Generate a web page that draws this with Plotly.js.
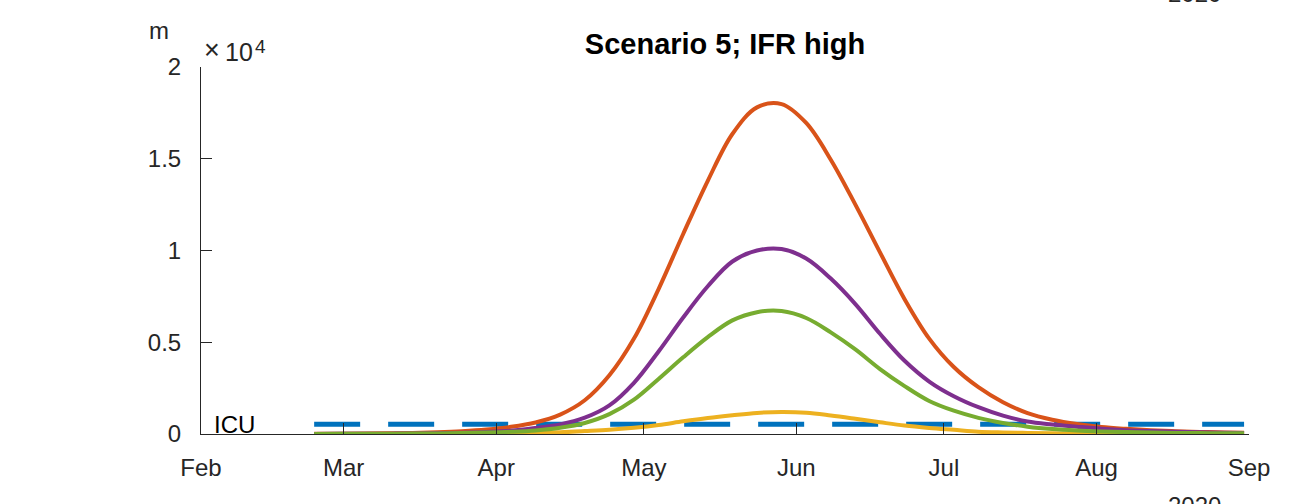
<!DOCTYPE html>
<html>
<head>
<meta charset="utf-8">
<script src="https://cdn.plot.ly/plotly-3.0.1.min.js"></script>
<style>html,body{margin:0;padding:0;background:#fff;}#chart{width:1303px;height:504px;}</style>
</head>
<body>
<div id="chart"></div>
<script>
// Dates (2020)
const dates = ['2020-02-24','2020-02-29','2020-03-05','2020-03-10','2020-03-15','2020-03-20','2020-03-25','2020-03-30',
  '2020-04-04','2020-04-09','2020-04-14','2020-04-19','2020-04-24','2020-04-29','2020-05-04','2020-05-09',
  '2020-05-14','2020-05-19','2020-05-24','2020-05-29','2020-06-03','2020-06-08','2020-06-13','2020-06-18',
  '2020-06-23','2020-06-28','2020-07-03','2020-07-08','2020-07-13','2020-07-18','2020-07-23','2020-07-28',
  '2020-08-02','2020-08-07','2020-08-12','2020-08-17','2020-08-22','2020-08-27','2020-08-31'];

const orangeVals = [10,15,25,40,60,95,150,240,
  390,630,1060,1840,3200,5200,7900,10900,
  13800,16350,17800,17980,16950,14950,12500,9900,
  7350,5200,3650,2550,1730,1140,780,540,
  380,280,205,155,115,85,65];

const purpleVals = [5,8,12,20,30,45,70,110,
  180,330,520,890,1560,2790,4500,6350,
  8050,9400,10000,10080,9560,8470,7080,5460,
  3990,2860,2060,1460,1000,680,520,400,
  290,210,160,120,90,70,55];

const greenVals = [5,7,10,15,22,32,48,75,
  120,195,340,600,1080,1870,3000,4180,
  5280,6190,6640,6700,6320,5540,4610,3540,
  2610,1800,1270,880,600,400,270,190,
  140,105,80,60,50,40,35];

const yellowVals = [2,3,5,7,10,14,20,30,
  45,65,100,160,230,340,490,690,
  870,1020,1150,1200,1160,1010,830,640,
  460,330,228,127,85,60,40,30,
  20,15,12,9,7,5,4];

const icuLevel = 530;
const icuVals = dates.map(() => icuLevel);

const monthTicks = ['2020-02-01','2020-03-01','2020-04-01','2020-05-01','2020-06-01','2020-07-01','2020-08-01','2020-09-01'];
const monthLabels = ['Feb','Mar','Apr','May','Jun','Jul','Aug','Sep'];
const yTickVals = [0,5000,10000,15000,20000];
const yTickText = ['0','0.5','1','1.5','2'];

const FONT = 'Liberation Sans, Arial, Helvetica, sans-serif';
const AX = '#262626';

const traces = [
  {x: dates, y: icuVals, mode:'lines', line:{color:'#0072BD', width:5, dash:'46px,28px'}, hoverinfo:'skip'},
  {x: dates, y: orangeVals, mode:'lines', line:{color:'#D95319', width:4, shape:'spline', smoothing:1}},
  {x: dates, y: yellowVals, mode:'lines', line:{color:'#EDB120', width:4, shape:'spline', smoothing:1}},
  {x: dates, y: purpleVals, mode:'lines', line:{color:'#7E2F8E', width:4, shape:'spline', smoothing:1}},
  {x: dates, y: greenVals, mode:'lines', line:{color:'#77AC30', width:4, shape:'spline', smoothing:1}}
];

const layout = {
  width:1303, height:504,
  margin:{l:201, r:54, t:67, b:70, pad:0},
  paper_bgcolor:'#fff', plot_bgcolor:'#fff',
  showlegend:false,
  font:{family:FONT, color:AX},
  title:{text:'<b>Scenario 5; IFR high</b>', font:{family:FONT, size:29, color:'#000'},
    xref:'paper', x:0.5, xanchor:'center', yref:'container', y:1-44/504, yanchor:'middle'},
  xaxis:{type:'date', range:['2020-02-01','2020-09-01'], tickvals:monthTicks, ticktext:monthLabels,
    ticks:'inside', ticklen:11, tickwidth:1, tickcolor:AX, showline:true, linecolor:AX, linewidth:1,
    showgrid:false, zeroline:false, tickfont:{family:FONT, size:24, color:AX}, ticklabelstandoff:12},
  yaxis:{range:[0,20000], tickvals:yTickVals, ticktext:yTickText,
    ticks:'inside', ticklen:11, tickwidth:1, tickcolor:AX, showline:true, linecolor:AX, linewidth:1,
    showgrid:false, zeroline:false, tickfont:{family:FONT, size:24, color:AX}, ticklabelstandoff:14},
  annotations:[
    {text:'m', xref:'paper', yref:'paper', x:(147-201)/1048, y:(434-46)/367, xanchor:'left', yanchor:'bottom',
      showarrow:false, font:{family:FONT, size:24, color:AX}},
    {text:'×', xref:'paper', yref:'paper', x:(202-201)/1048, y:(434-67)/367, xanchor:'left', yanchor:'bottom',
      showarrow:false, font:{family:FONT, size:27, color:AX}},
    {text:'10', xref:'paper', yref:'paper', x:(223-201)/1048, y:(434-68)/367, xanchor:'left', yanchor:'bottom',
      showarrow:false, font:{family:FONT, size:25, color:AX}},
    {text:'4', xref:'paper', yref:'paper', x:(253-201)/1048, y:(434-34)/367, xanchor:'left', yanchor:'top',
      showarrow:false, font:{family:FONT, size:19, color:AX}},
    {text:'ICU', xref:'x', yref:'y', x:'2020-02-03 08:00', y:icuLevel, xanchor:'left', yanchor:'middle',
      showarrow:false, font:{family:FONT, size:24, color:'#000'}},
    {text:'2020', xref:'paper', yref:'paper', x:(1194.5-201)/1048, y:(434-9)/367, xanchor:'center', yanchor:'bottom',
      showarrow:false, font:{family:FONT, size:24, color:AX}},
    {text:'2020', xref:'paper', yref:'paper', x:(1194.5-201)/1048, y:(434-490)/367, xanchor:'center', yanchor:'top',
      showarrow:false, font:{family:FONT, size:24, color:AX}}
  ]
};

Plotly.newPlot('chart', traces, layout, {displayModeBar:false, staticPlot:true});
</script>
</body>
</html>
